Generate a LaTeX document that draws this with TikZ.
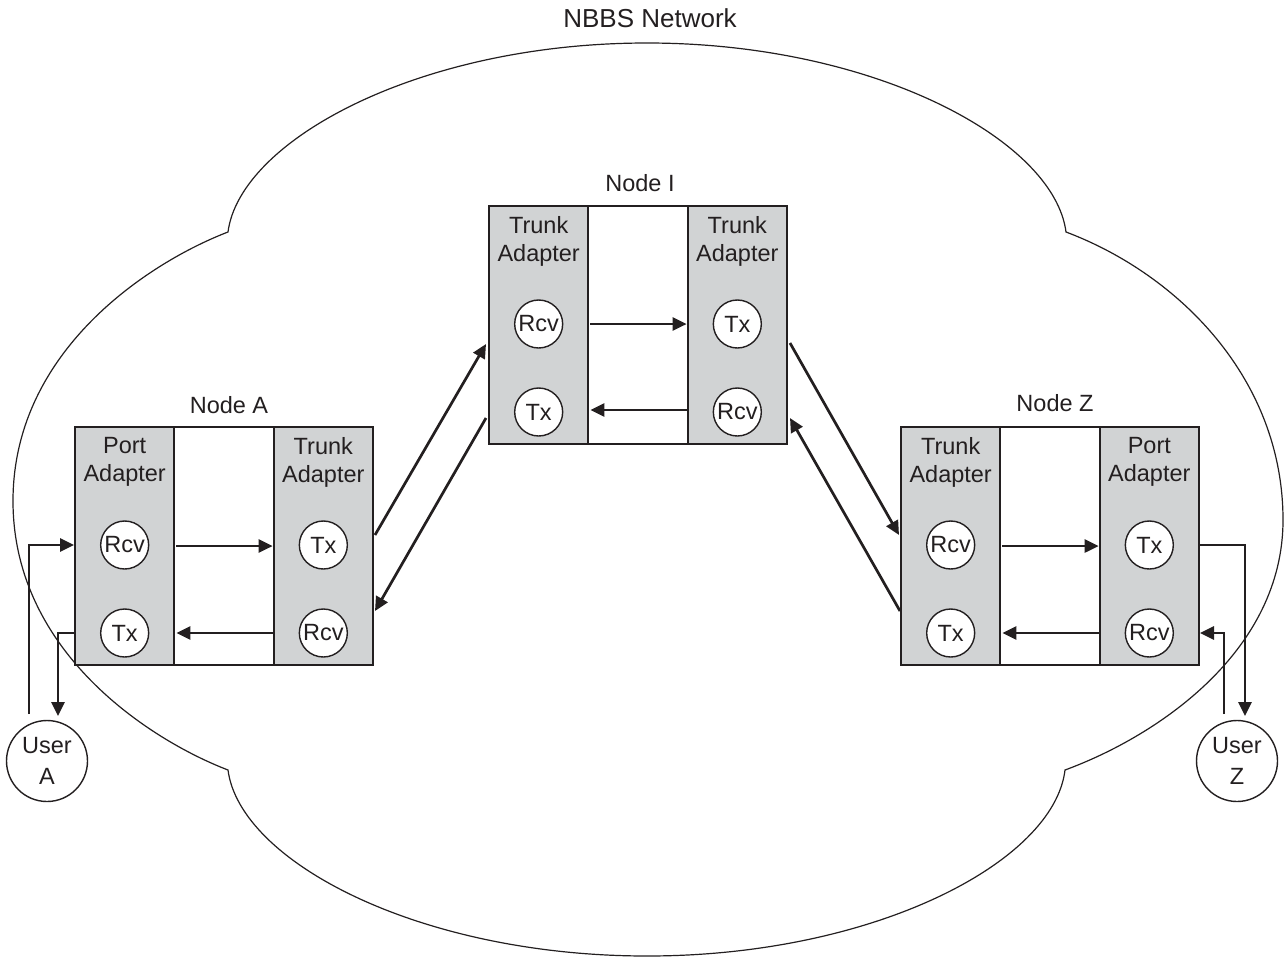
\documentclass[tikz,border=0pt]{standalone}
\usepackage{fontspec}
\setmainfont{Liberation Sans}
\usetikzlibrary{arrows.meta,calc}
\definecolor{ink}{RGB}{35,31,32}
\definecolor{panel}{RGB}{209,211,212}
\tikzset{
  txt/.style={font=\fontsize{23.5}{28}\selectfont, text=ink, inner sep=0pt},
  col/.style={draw=ink, line width=2pt, fill=panel, minimum width=99.33pt, minimum height=238pt, inner sep=0pt, outer sep=0pt},
  midcol/.style={col, fill=white},
  port/.style={circle, draw=ink, fill=white, line width=1.4pt, minimum size=48pt, inner sep=0pt, txt},
  user/.style={circle, draw=ink, fill=white, line width=1.4pt, minimum size=81pt, inner sep=0pt, align=center, txt, font=\fontsize{23.5}{31}\selectfont},
  flow/.style={draw=ink, line width=2.7pt, -{Triangle[length=14pt,width=13pt]}},
  cloudline/.style={draw=ink, line width=1.2pt},
  collabel/.style={txt, align=center},
}
\begin{document}
\begin{tikzpicture}[x=1pt,y=-1pt]
\useasboundingbox (0,0) rectangle (1285,959);

% cloud
\draw[cloudline] (228,232) .. controls (240,140) and (420,43) .. (647,43)
  .. controls (874,43) and (1054,140) .. (1066,232)
  .. controls (1180,275) and (1283,380) .. (1283,520)
  .. controls (1283,650) and (1160,735) .. (1065,770)
  .. controls (1054,862) and (874,956) .. (647,956)
  .. controls (420,956) and (240,862) .. (228,770)
  .. controls (150,740) and (13,652) .. (13,501)
  .. controls (13,350) and (150,262) .. (228,232) -- cycle;

\node[txt, font=\fontsize{26}{30}\selectfont] (title) at (650,18) {NBBS Network};

% ---------- Node A ----------
\node[col] (aPort) at (124.67,546) {};
\node[midcol] (aMid) at (224,546) {};
\node[col] (aTrunk) at (323.33,546) {};
\node[txt] (aName) at (229,405) {Node A};
\node[collabel] (aPortL) at ($(aPort.north)+(0,35)$) {Port\\Adapter};
\node[collabel] (aTrunkL) at ($(aTrunk.north)+(0,35)$) {Trunk\\Adapter};
\node[port] (aPRcv) at ($(aPort.north)+(0,118)$) {Rcv};
\node[port] (aPTx) at ($(aPort.north)+(0,206)$) {Tx};
\node[port] (aTTx) at ($(aTrunk.north)+(0,118)$) {Tx};
\node[port] (aTRcv) at ($(aTrunk.north)+(0,206)$) {Rcv};
\draw[flow] ($(aPRcv -| aMid.west)+(2,1)$) -- ($(aTTx -| aMid.east)+(-1,1)$);
\draw[flow] ($(aTRcv -| aMid.east)+(-1,0)$) -- ($(aPTx -| aMid.west)+(2,0)$);

% ---------- Node I ----------
\node[col] (iLeft) at (538.67,325) {};
\node[midcol] (iMid) at (638,325) {};
\node[col] (iRight) at (737.33,325) {};
\node[txt] (iName) at (640,183) {Node I};
\node[collabel] (iLeftL) at ($(iLeft.north)+(0,35)$) {Trunk\\Adapter};
\node[collabel] (iRightL) at ($(iRight.north)+(0,35)$) {Trunk\\Adapter};
\node[port] (iRcv) at ($(iLeft.north)+(0,118)$) {Rcv};
\node[port] (iTx) at ($(iLeft.north)+(0,206)$) {Tx};
\node[port] (iTx2) at ($(iRight.north)+(0,118)$) {Tx};
\node[port] (iRcv2) at ($(iRight.north)+(0,206)$) {Rcv};
\draw[flow] ($(iRcv -| iMid.west)+(2,0)$) -- ($(iTx2 -| iMid.east)+(-1,0)$);
\draw[flow] ($(iRcv2 -| iMid.east)+(-1,-2)$) -- ($(iTx -| iMid.west)+(2,-2)$);

% ---------- Node Z ----------
\node[col] (zTrunk) at (950.67,546) {};
\node[midcol] (zMid) at (1050,546) {};
\node[col] (zPort) at (1149.33,546) {};
\node[txt] (zName) at (1055,403) {Node Z};
\node[collabel] (zTrunkL) at ($(zTrunk.north)+(0,35)$) {Trunk\\Adapter};
\node[collabel] (zPortL) at ($(zPort.north)+(0,35)$) {Port\\Adapter};
\node[port] (zTRcv) at ($(zTrunk.north)+(0,118)$) {Rcv};
\node[port] (zTTx) at ($(zTrunk.north)+(0,206)$) {Tx};
\node[port] (zPTx) at ($(zPort.north)+(0,118)$) {Tx};
\node[port] (zPRcv) at ($(zPort.north)+(0,206)$) {Rcv};
\draw[flow] ($(zTRcv -| zMid.west)+(2,1)$) -- ($(zPTx -| zMid.east)+(-1,1)$);
\draw[flow] ($(zPRcv -| zMid.east)+(-1,0)$) -- ($(zTTx -| zMid.west)+(2,0)$);

% ---------- trunk links ----------
\draw[flow] ($(aTTx -| aTrunk.east)+(2,-10)$) -- ($(iRcv -| iLeft.west)+(-3,20)$);
\draw[flow] ($(iTx -| iLeft.west)+(-3,6)$) -- ($(aTRcv -| aTrunk.east)+(2,-22)$);
\draw[flow] ($(iTx2 -| iRight.east)+(3,19)$) -- ($(zTRcv -| zTrunk.west)+(-2,-10)$);
\draw[flow] ($(zTTx -| zTrunk.west)+(-1,-22)$) -- ($(iRcv2 -| iRight.east)+(3,6)$);

% ---------- users ----------
\node[user] (uA) at (47,761) {User\\A};
\node[user] (uZ) at (1237,761) {User\\Z};

\draw[flow] ($(uA.center)+(-18,-47)$) |- ($(aPRcv -| aPort.west)+(-1,0)$);
\draw[flow] (aPTx -| aPort.west) -| ($(uA.center)+(11,-45)$);
\draw[flow] (zPTx -| zPort.east) -| ($(uZ.center)+(8,-45)$);
\draw[flow] ($(uZ.center)+(-13,-47)$) |- ($(zPRcv -| zPort.east)+(1,0)$);
\end{tikzpicture}
\end{document}
